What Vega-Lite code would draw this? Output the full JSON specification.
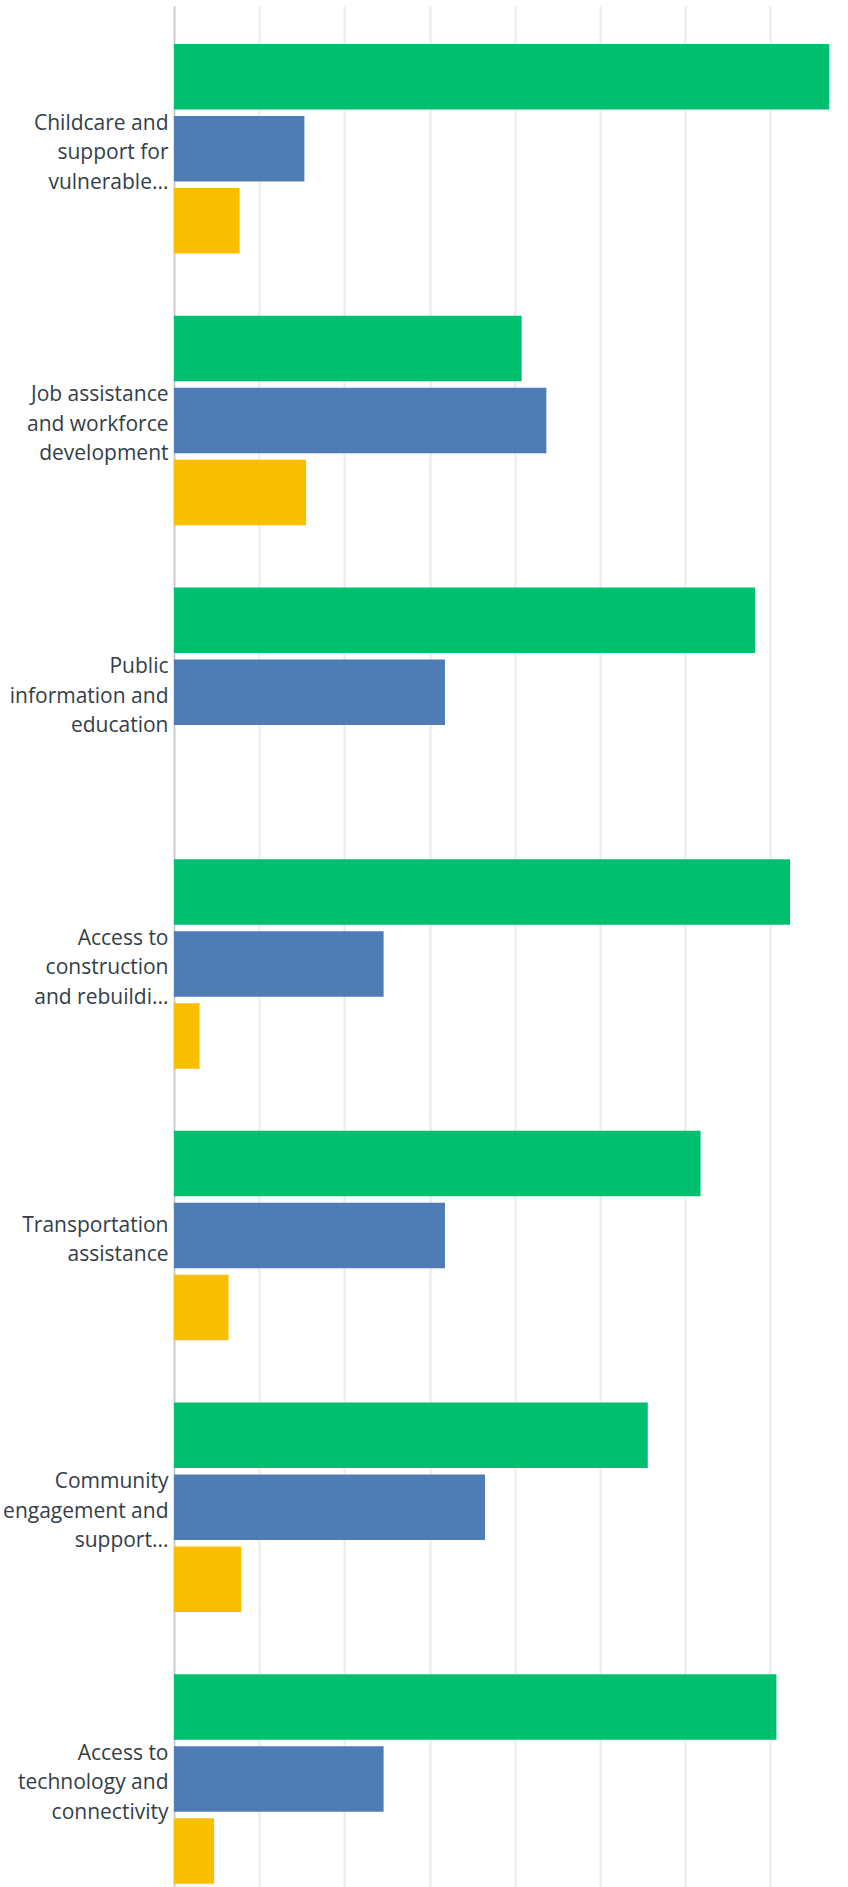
{
  "$schema": "https://vega.github.io/schema/vega-lite/v6.json",
  "width": 674,
  "height": 1881,
  "autosize": {"type": "none"},
  "padding": {"top": 6, "left": 174, "right": 0, "bottom": 0},
  "background": "white",
  "config": {"view": {"stroke": null}},
  "data": {
    "values": [
      {"item": "Childcare and\nsupport for\nvulnerable...", "series": "A", "pct": 76.9},
      {"item": "Childcare and\nsupport for\nvulnerable...", "series": "B", "pct": 15.3},
      {"item": "Childcare and\nsupport for\nvulnerable...", "series": "C", "pct": 7.7},
      {"item": "Job assistance\nand workforce\ndevelopment", "series": "A", "pct": 40.8},
      {"item": "Job assistance\nand workforce\ndevelopment", "series": "B", "pct": 43.7},
      {"item": "Job assistance\nand workforce\ndevelopment", "series": "C", "pct": 15.5},
      {"item": "Public\ninformation and\neducation", "series": "A", "pct": 68.2},
      {"item": "Public\ninformation and\neducation", "series": "B", "pct": 31.8},
      {"item": "Public\ninformation and\neducation", "series": "C", "pct": 0},
      {"item": "Access to\nconstruction\nand rebuildi...", "series": "A", "pct": 72.3},
      {"item": "Access to\nconstruction\nand rebuildi...", "series": "B", "pct": 24.6},
      {"item": "Access to\nconstruction\nand rebuildi...", "series": "C", "pct": 3.0},
      {"item": "Transportation\nassistance", "series": "A", "pct": 61.8},
      {"item": "Transportation\nassistance", "series": "B", "pct": 31.8},
      {"item": "Transportation\nassistance", "series": "C", "pct": 6.4},
      {"item": "Community\nengagement and\nsupport...", "series": "A", "pct": 55.6},
      {"item": "Community\nengagement and\nsupport...", "series": "B", "pct": 36.5},
      {"item": "Community\nengagement and\nsupport...", "series": "C", "pct": 7.9},
      {"item": "Access to\ntechnology and\nconnectivity", "series": "A", "pct": 70.7},
      {"item": "Access to\ntechnology and\nconnectivity", "series": "B", "pct": 24.6},
      {"item": "Access to\ntechnology and\nconnectivity", "series": "C", "pct": 4.7}
    ]
  },
  "mark": {"type": "bar"},
  "encoding": {
    "y": {
      "field": "item",
      "type": "nominal",
      "sort": null,
      "scale": {"paddingInner": 0.205, "paddingOuter": 0.064, "align": 1},
      "axis": {
        "title": null,
        "grid": false,
        "ticks": false,
        "domainColor": "#cccccc",
        "domainWidth": 2,
        "labelPadding": 6,
        "labelFont": "Open Sans",
        "labelFontSize": 21,
        "labelColor": "#333e48",
        "labelLineHeight": 29.5,
        "labelLimit": 0,
        "labelOverlap": false,
        "labelOffset": {
          "condition": {"test": "indexof(datum.value, 'Transportation') == 0", "value": -10},
          "value": -25
        },
        "labelExpr": "split(datum.value, '\\n')"
      }
    },
    "yOffset": {
      "field": "series",
      "type": "nominal",
      "sort": ["A", "B", "C"],
      "scale": {"paddingInner": 0.09, "paddingOuter": 0.045}
    },
    "x": {
      "field": "pct",
      "type": "quantitative",
      "scale": {"domain": [0, 79.1], "nice": false, "zero": true},
      "axis": {
        "title": null,
        "values": [10, 20, 30, 40, 50, 60, 70],
        "labels": false,
        "ticks": false,
        "domain": false,
        "grid": true,
        "gridColor": "#ebebeb",
        "gridWidth": 2
      }
    },
    "color": {
      "field": "series",
      "type": "nominal",
      "scale": {"domain": ["A", "B", "C"], "range": ["#00bf6f", "#507cb6", "#f9be00"]},
      "legend": null
    }
  }
}
